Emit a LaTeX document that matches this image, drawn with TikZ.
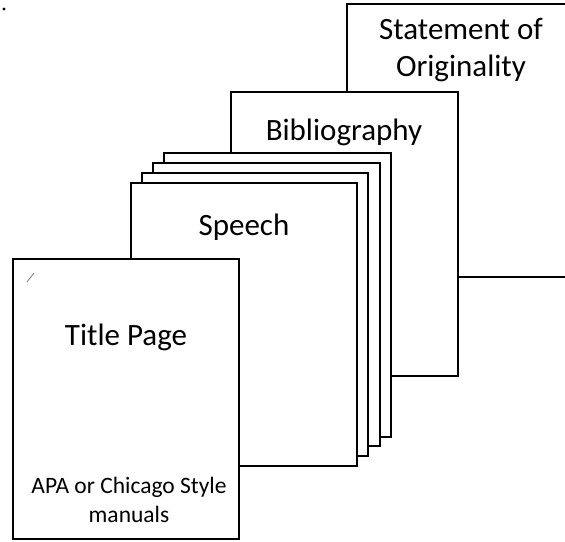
\documentclass[tikz,border=0pt]{standalone}
\usepackage{fontspec}
\setmainfont{Carlito}
\begin{document}
\begin{tikzpicture}[x=1pt,y=-1pt,
  sheet/.style={draw=black,fill=white,line width=1.1pt,rectangle,anchor=north west,inner sep=0pt,outer sep=0pt},
  big/.style={font=\fontsize{31}{37}\selectfont,align=center,inner sep=0pt},
  small/.style={font=\fontsize{23.5}{29}\selectfont,align=center,inner sep=0pt}]
\useasboundingbox (0,0) rectangle (565,541);
\clip (0,0) rectangle (565,541);
\fill[white] (0,0) rectangle (565,541);
% back to front
\node[sheet,minimum width=240pt,minimum height=273pt] (stmt) at (347,4) {};
\node[sheet,minimum width=227pt,minimum height=284pt] (bib) at (231,92) {};
\node[sheet,minimum width=227pt,minimum height=284pt] (p4) at (164,153) {};
\node[sheet,minimum width=227pt,minimum height=283pt] (p3) at (153,163) {};
\node[sheet,minimum width=226pt,minimum height=283pt] (p2) at (142,173) {};
\node[sheet,minimum width=226pt,minimum height=283pt] (speech) at (131,183) {};
\node[sheet,minimum width=226pt,minimum height=280pt] (title) at (13,259) {};
% labels
\node[big] (stmtlbl) at (461,50) {Statement of\\Originality};
\node[big] (biblbl) at (344,132) {Bibliography};
\node[big] (speechlbl) at (244,227) {Speech};
\node[big] (titlelbl) at (126,337) {Title Page};
\node[small] (apalbl) at (129,500) {APA or Chicago Style\\manuals};
% stray marks
\fill[black] (4,9) circle (1.7pt);
\coordinate (s1) at (27,282);
\coordinate (s2) at (34,273);
\draw[gray,line width=0.8pt] (s1) -- (s2);
\end{tikzpicture}
\end{document}
